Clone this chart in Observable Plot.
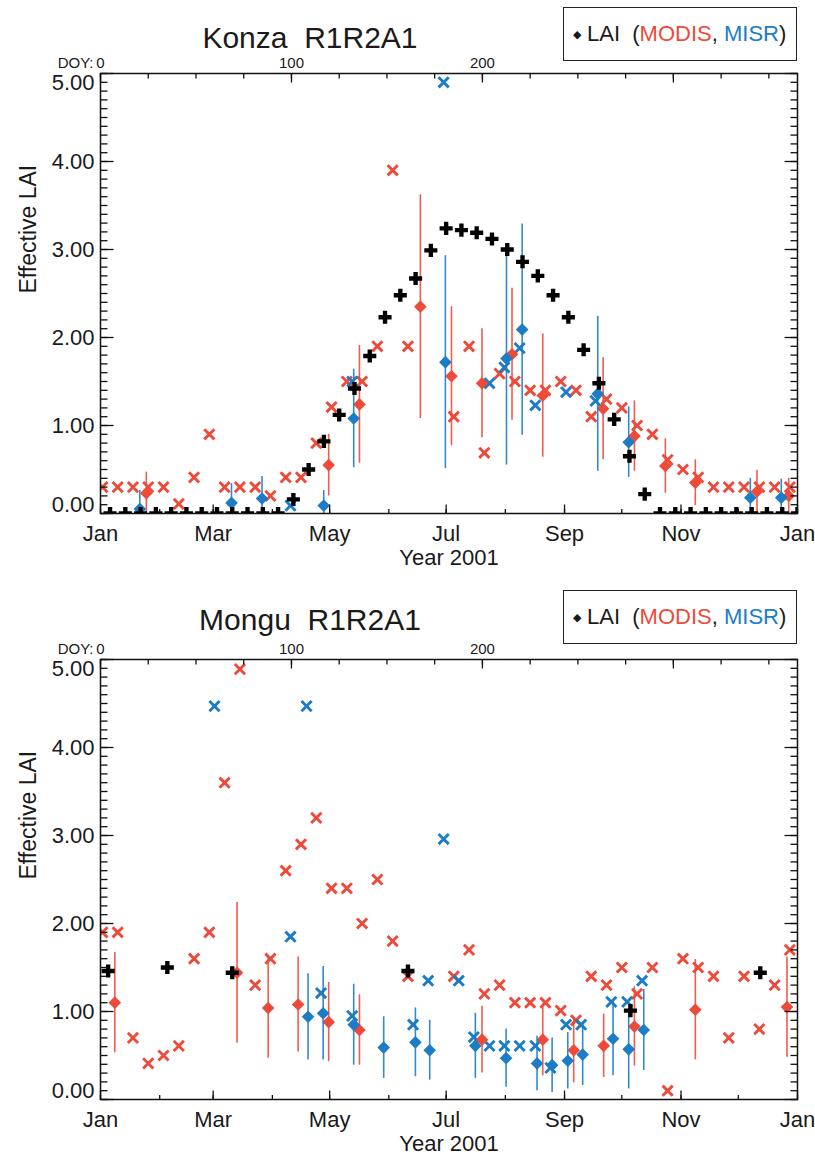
<!DOCTYPE html>
<html>
<head>
<meta charset="utf-8">
<script src="https://cdn.jsdelivr.net/npm/d3@7"></script>
<script src="https://cdn.jsdelivr.net/npm/@observablehq/plot@0.6"></script>
<style>
  body { margin: 0; background: #fff; }
  #wrap { position: relative; width: 815px; height: 1154px; font-family: "Liberation Sans", Arial, sans-serif; color: #1a1a1a; }
  #wrap svg { display: block; }
  .title { position: absolute; font-size: 30px; white-space: pre; transform: translate(-50%, -50%); line-height: 1; }
  .legend { position: absolute; left: 563px; width: 232px; height: 52px; border: 1.5px solid #222; background: #fff;
            font-size: 22px; line-height: 52px; white-space: pre; box-sizing: content-box; }
  .legend .dia { font-size: 11px; vertical-align: 3px; margin-left: 9px; margin-right: 6px; }
</style>
</head>
<body>
<div id="wrap">
  <div id="p1"></div>
  <div id="p2"></div>
  <div class="title" style="left:310px;top:38px">Konza  R1R2A1</div>
  <div class="legend" style="top:7px"><span class="dia">◆</span>LAI  (<span style="color:#ee4a3a">MODIS</span>, <span style="color:#1c7cc5">MISR</span>)</div>
  <div class="title" style="left:310px;top:620px">Mongu  R1R2A1</div>
  <div class="legend" style="top:590px"><span class="dia">◆</span>LAI  (<span style="color:#ee4a3a">MODIS</span>, <span style="color:#1c7cc5">MISR</span>)</div>
</div>
<script>
// ---------- axis definitions ----------
const monthTicks = [0, 31, 59, 90, 120, 151, 181, 212, 243, 273, 304, 334, 365];
const monthLabelTicks = [0, 59, 120, 181, 243, 304, 365];
const monthLabels = ["Jan", "Mar", "May", "Jul", "Sep", "Nov", "Jan"];
const doyMinorTicks = [0, 25, 50, 75, 100, 125, 150, 175, 200, 225, 250, 275, 300, 325, 350];
const doyMajorTicks = [0, 100, 200, 300];
const doyLabels = [0, 100, 200];
const laiMajorTicks = [0, 1, 2, 3, 4, 5];
const laiMinorTicks = d3.range(0, 5.001, 0.1);

const RED = "#ee4a3a", BLUE = "#1c7cc5";

// ---------- Konza ----------
const konzaInsituDoy = [5,13,21,29,37,45,53,61,69,77,85,93,101,109,117,125,133,141,149,157,165,173,181,189,197,205,213,221,229,237,245,253,261,269,277,285,293,301,309,317,325,333,341,349,357,365];
const konzaInsituLai = [0,0,0,0,0,0,0,0,0,0,0,0,0.16,0.50,0.82,1.12,1.42,1.79,2.23,2.48,2.67,2.99,3.24,3.22,3.19,3.12,3.00,2.86,2.70,2.48,2.23,1.86,1.48,1.07,0.65,0.22,0,0,0,0,0,0,0,0,0,0];

const konzaModisDoy = [1,9,17,25,33,41,49,57,65,73,81,89,97,105,113,121,129,137,145,153,161,185,193,201,209,217,225,233,241,249,257,265,273,281,289,297,305,313,321,329,337,345,353,361];
const konzaModisLai = [0.30,0.30,0.30,0.30,0.30,0.11,0.41,0.90,0.30,0.30,0.30,0.20,0.41,0.41,0.80,1.21,1.50,1.50,1.90,3.90,1.90,1.10,1.90,0.69,1.59,1.50,1.40,1.40,1.50,1.40,1.10,1.30,1.20,1.00,0.90,0.61,0.50,0.41,0.30,0.30,0.30,0.30,0.30,0.30];

const konzaModisMeanDoy = [24,119.5,135.6,167.5,183.8,199.8,215.5,231.6,263.2,279.6,295.8,311.5,343.8,360.4];
const konzaModisMean = [0.23,0.55,1.24,2.35,1.56,1.48,1.81,1.34,1.19,0.88,0.54,0.35,0.25,0.20];
const konzaModisSd = [0.24,0.35,0.67,1.27,0.79,0.62,0.75,0.70,0.58,0.40,0.31,0.26,0.24,0.20];

const konzaMisrDoy = [99.5,131.8,179.7,203.7,211.5,219.5,227.7,243.8,259.2];
const konzaMisrLai = [0.09,1.50,4.90,1.48,1.66,1.88,1.23,1.38,1.28];

const konzaMisrMeanDoy = [20.6,68.6,84.6,116.9,132.6,180.6,212.6,220.8,260.4,276.6,340.3,356.5];
const konzaMisrMean = [0.05,0.12,0.17,0.09,1.08,1.72,1.76,2.09,1.36,0.81,0.18,0.18];
const konzaMisrSd = [0.21,0.22,0.25,0.17,0.56,1.21,1.21,1.20,0.88,0.40,0.22,0.21];

// ---------- Mongu ----------
const monguInsituDoy = [4,35,69,161,277.5,345.5];
const monguInsituLai = [1.46,1.50,1.44,1.46,1.01,1.44];

const monguModisDoy = [1,9,17,25,33,41,49,57,65,73,81,89,97,105,113,121,129,137,145,153,161,185,193,201,209,217,225,233,241,249,257,265,273,281,289,297,305,313,321,329,337,345,353,361];
const monguModisLai = [1.90,1.90,0.70,0.41,0.50,0.61,1.60,1.90,3.60,4.89,1.30,1.60,2.60,2.90,3.20,2.40,2.40,2.00,2.50,1.80,1.40,1.40,1.70,1.20,1.30,1.10,1.10,1.10,1.01,0.90,1.40,1.30,1.50,1.20,1.50,0.10,1.60,1.50,1.40,0.70,1.40,0.80,1.30,1.70];

const monguModisMeanDoy = [7.5,71.5,87.8,103.5,119.5,135.6,199.8,231.6,247.8,263.5,279.6,311.5,359.5];
const monguModisMean = [1.10,1.44,1.04,1.08,0.88,0.79,0.68,0.68,0.56,0.61,0.83,1.02,1.05];
const monguModisSd = [0.57,0.80,0.57,0.54,0.45,0.40,0.38,0.41,0.37,0.36,0.45,0.57,0.57];

const monguMisrDoy = [59.7,99.5,107.9,115.5,131.8,163.7,171.6,179.7,187.6,195.5,203.7,211.5,219.5,227.7,235.6,243.8,251.7,267.5,275.8,283.6];
const monguMisrLai = [4.47,1.85,4.47,1.21,0.95,0.85,1.35,2.96,1.35,0.71,0.61,0.61,0.61,0.61,0.36,0.85,0.85,1.11,1.11,1.35];

const monguMisrMeanDoy = [108.7,116.6,132.6,148.3,164.9,172.4,196.3,212.4,228.6,236.5,244.7,252.5,268.4,276.6,284.5];
const monguMisrMean = [0.94,0.98,0.85,0.59,0.65,0.56,0.61,0.47,0.41,0.39,0.44,0.51,0.69,0.57,0.79];
const monguMisrSd = [0.49,0.53,0.46,0.35,0.39,0.34,0.37,0.33,0.31,0.31,0.32,0.35,0.42,0.45,0.46];

// ---------- helpers ----------
const pts = (xs, ys) => xs.map((x, i) => ({x, y: ys[i]}));
const bars = (xs, ms, sds) => xs.map((x, i) => ({x, y: ms[i], lo: ms[i] - sds[i], hi: ms[i] + sds[i]}));
const tickSym = (dx, dy) => ({draw(ctx) { ctx.moveTo(0, 0); ctx.lineTo(dx, dy); }});
const FONT = "Liberation Sans, Arial, sans-serif";
const fmt = d3.format(".2f");

function panel(d, height, marginBottom) {
  const tk = {fill: "none", stroke: "#111", strokeWidth: 1.3};
  return Plot.plot({
    width: 815, height,
    marginLeft: 100, marginRight: 18, marginTop: 73, marginBottom,
    style: {fontFamily: FONT, background: "white", overflow: "visible", color: "#1a1a1a"},
    x: {domain: [0, 365], axis: null},
    y: {domain: [0, 5], axis: null},
    marks: [
      // MODIS and MISR single retrievals
      Plot.dot(pts(d.modisDoy, d.modisLai), {x: "x", y: "y", symbol: "times", r: 4.7, stroke: RED, strokeWidth: 2.9, clip: true}),
      Plot.dot(pts(d.misrDoy, d.misrLai), {x: "x", y: "y", symbol: "times", r: 4.7, stroke: BLUE, strokeWidth: 2.9, clip: true}),
      // MODIS mean +- sd
      Plot.ruleX(bars(d.modisMeanDoy, d.modisMean, d.modisSd), {x: "x", y1: "lo", y2: "hi", stroke: RED, strokeWidth: 1.6, strokeOpacity: 0.9, clip: true}),
      Plot.dot(bars(d.modisMeanDoy, d.modisMean, d.modisSd), {x: "x", y: "y", symbol: "diamond2", r: 5.7, fill: RED, clip: true}),
      // MISR mean +- sd
      Plot.ruleX(bars(d.misrMeanDoy, d.misrMean, d.misrSd), {x: "x", y1: "lo", y2: "hi", stroke: BLUE, strokeWidth: 1.6, strokeOpacity: 0.9, clip: true}),
      Plot.dot(bars(d.misrMeanDoy, d.misrMean, d.misrSd), {x: "x", y: "y", symbol: "diamond2", r: 5.7, fill: BLUE, clip: true}),
      // in situ LAI
      Plot.dot(pts(d.insituDoy, d.insituLai), {x: "x", y: "y", symbol: "cross", r: 5.5, fill: "#000", clip: true}),
      Plot.frame({stroke: "#111", strokeWidth: 1.5}),
      // inward ticks
      Plot.dot(laiMinorTicks, {y: v => v, frameAnchor: "left", symbol: tickSym(7, 0), ...tk}),
      Plot.dot(laiMajorTicks, {y: v => v, frameAnchor: "left", symbol: tickSym(13, 0), ...tk}),
      Plot.dot(laiMinorTicks, {y: v => v, frameAnchor: "right", symbol: tickSym(-7, 0), ...tk}),
      Plot.dot(laiMajorTicks, {y: v => v, frameAnchor: "right", symbol: tickSym(-13, 0), ...tk}),
      Plot.dot(monthTicks, {x: v => v, frameAnchor: "bottom", symbol: tickSym(0, -4.5), ...tk}),
      Plot.dot(monthLabelTicks, {x: v => v, frameAnchor: "bottom", symbol: tickSym(0, -9), ...tk}),
      Plot.dot(doyMinorTicks, {x: v => v, frameAnchor: "top", symbol: tickSym(0, 5), ...tk}),
      Plot.dot(doyMajorTicks, {x: v => v, frameAnchor: "top", symbol: tickSym(0, 9), ...tk}),
      // tick labels
      Plot.text(laiMajorTicks.slice(1, 5), {y: v => v, text: v => fmt(v), frameAnchor: "left", textAnchor: "end", dx: -6, fontSize: 22, fill: "#1a1a1a"}),
      Plot.text([5], {y: v => v, text: v => fmt(v), frameAnchor: "left", textAnchor: "end", dx: -6, dy: 9, fontSize: 22, fill: "#1a1a1a"}),
      Plot.text([0], {y: v => v, text: v => fmt(v), frameAnchor: "left", textAnchor: "end", dx: -6, dy: -9, fontSize: 22, fill: "#1a1a1a"}),
      Plot.text(monthLabelTicks, {x: v => v, text: (v, i) => monthLabels[i], frameAnchor: "bottom", lineAnchor: "top", dy: 12, fontSize: 22, fill: "#1a1a1a"}),
      Plot.text(doyLabels, {x: v => v, text: v => String(v), frameAnchor: "top", lineAnchor: "bottom", dy: -6, fontSize: 15, fill: "#1a1a1a"}),
      Plot.text(["DOY:"], {x: [0], text: v => v, frameAnchor: "top", lineAnchor: "bottom", textAnchor: "end", dx: -7, dy: -6, fontSize: 15, fill: "#1a1a1a"}),
      Plot.text(["Year 2001"], {text: v => v, frameAnchor: "bottom", lineAnchor: "top", dy: 36, fontSize: 22, fill: "#1a1a1a"}),
      Plot.text(["Effective LAI"], {text: v => v, frameAnchor: "left", rotate: -90, dx: -72, fontSize: 23, fill: "#1a1a1a"})
    ]
  });
}

const konza = {
  insituDoy: konzaInsituDoy, insituLai: konzaInsituLai,
  modisDoy: konzaModisDoy, modisLai: konzaModisLai,
  modisMeanDoy: konzaModisMeanDoy, modisMean: konzaModisMean, modisSd: konzaModisSd,
  misrDoy: konzaMisrDoy, misrLai: konzaMisrLai,
  misrMeanDoy: konzaMisrMeanDoy, misrMean: konzaMisrMean, misrSd: konzaMisrSd
};
const mongu = {
  insituDoy: monguInsituDoy, insituLai: monguInsituLai,
  modisDoy: monguModisDoy, modisLai: monguModisLai,
  modisMeanDoy: monguModisMeanDoy, modisMean: monguModisMean, modisSd: monguModisSd,
  misrDoy: monguMisrDoy, misrLai: monguMisrLai,
  misrMeanDoy: monguMisrMeanDoy, misrMean: monguMisrMean, misrSd: monguMisrSd
};

document.getElementById("p1").append(panel(konza, 586, 73));
document.getElementById("p2").append(panel(mongu, 568, 55));
</script>
</body>
</html>
